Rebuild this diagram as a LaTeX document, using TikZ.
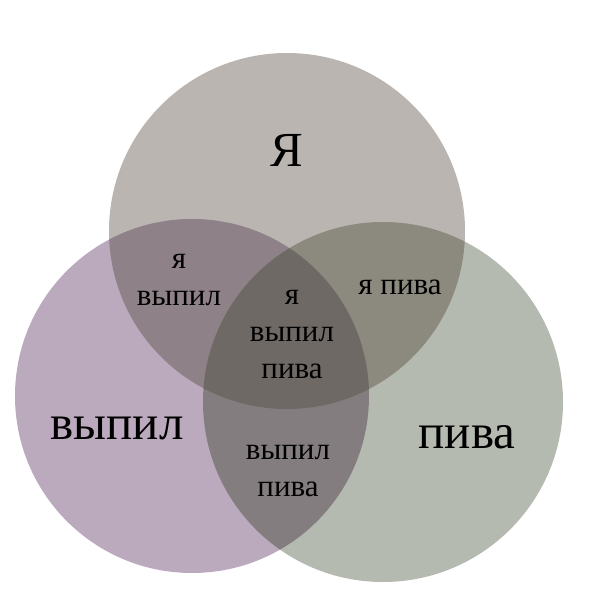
\documentclass[tikz,border=0pt]{standalone}
\usepackage{fontspec}
\setmainfont{Liberation Serif}
\usetikzlibrary{positioning}
\definecolor{yacol}{RGB}{187,181,177}
\definecolor{vypcol}{RGB}{187,169,189}
\definecolor{pivcol}{RGB}{181,186,177}
\definecolor{yavyp}{RGB}{142,129,135}
\definecolor{yapiv}{RGB}{140,138,126}
\definecolor{vyppiv}{RGB}{131,125,128}
\definecolor{allcol}{RGB}{111,105,101}

\begin{document}
\begin{tikzpicture}[x=1pt,y=-1pt,
    bigtxt/.style={font=\fontsize{49}{56}\selectfont, text=black},
    smalltxt/.style={font=\fontsize{31}{37}\selectfont, text=black, align=center}]
            \useasboundingbox (0,0) rectangle (604,604);
            \coordinate (ya) at (287,231);
            \coordinate (vyp) at (192,396);
            \coordinate (piv) at (383,402);

            % three circles
            \fill[yacol] (ya) circle[radius=178pt];
            \fill[vypcol] (vyp) circle[radius=177pt];
            \fill[pivcol] (piv) circle[radius=180pt];

            % overlaps
            \begin{scope}
                \clip (ya) circle[radius=178pt];
                \fill[yavyp] (vyp) circle[radius=177pt];
                \fill[yapiv] (piv) circle[radius=180pt];
            \end{scope}
            \begin{scope}
                \clip (vyp) circle[radius=177pt];
                \fill[vyppiv] (piv) circle[radius=180pt];
                \clip (piv) circle[radius=180pt];
                \fill[allcol] (ya) circle[radius=178pt];
            \end{scope}

            \node[bigtxt] (tya) at (287,150) {Я};
            \node[bigtxt] (tvyp) at (117,428) {выпил};
            \node[bigtxt] (tpiv) at (467,437) {пива};
            \node[smalltxt] (tyavyp) at (179,280) {я\\выпил};
            \node[smalltxt] (tyapiv) at (400,287) {я пива};
            \node[smalltxt] (tall) at (292,335) {я\\выпил\\пива};
            \node[smalltxt] (tvyppiv) at (288,471) {выпил\\пива};
            \end{tikzpicture}
\end{document}
